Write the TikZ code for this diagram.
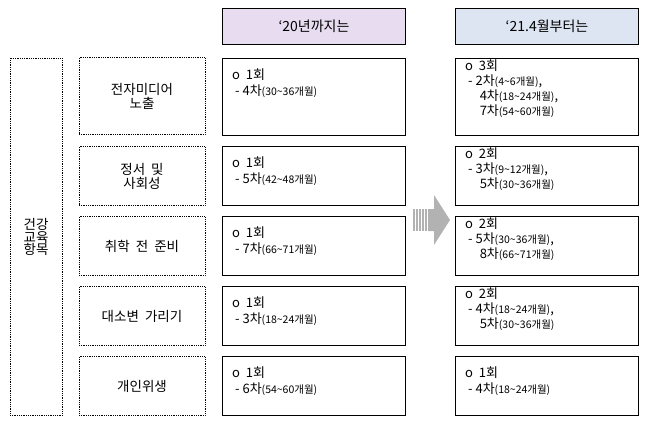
\documentclass[tikz,border=0pt]{standalone}
\usepackage{fontspec}
\setmainfont{Noto Sans CJK KR}
\usetikzlibrary{positioning}
\definecolor{hdA}{HTML}{E8DDF0}
\definecolor{hdB}{HTML}{DDE4F2}
\begin{document}
\begin{tikzpicture}[x=1pt,y=-1pt]
\tikzstyle{hd}=[draw, line width=0.9pt, minimum width=183pt, minimum height=36pt, font=\fontsize{14}{16}\selectfont];
\tikzstyle{cat}=[draw, densely dotted, line width=0.8pt, minimum width=126pt, align=center, font=\fontsize{13.5}{14}\selectfont];
\tikzstyle{box}=[draw, line width=0.9pt, minimum width=183pt, anchor=north west];
\tikzstyle{txt}=[anchor=north west, align=left, inner sep=0pt, font=\fontsize{13}{16}\selectfont];
\newcommand{\mo}[1]{{\fontsize{10.5}{15}\selectfont(#1개월)}}
\useasboundingbox (0,0) rectangle (652,422);
\node [hd, fill=hdA] (h1) at (314,26) {‘20년까지는};
\node [hd, fill=hdB] (h2) at (547,26) {‘21.4월부터는};
\node [draw, densely dotted, line width=0.8pt, minimum width=52pt, minimum height=357pt, align=center, font=\fontsize{13.5}{12.5}\selectfont] (grp) at (36,237) {건강\\교육\\항목};
\node [cat, minimum height=77pt] (c1) at (142,96) {전자미디어\\노출};
\node [cat, minimum height=59pt] (c2) at (142,176) {정서 \ 및\\사회성};
\node [cat, minimum height=59pt] (c3) at (142,246) {취학 \ 전 \ 준비};
\node [cat, minimum height=59pt] (c4) at (142,316) {대소변 \ 가리기};
\node [cat, minimum height=59pt] (c5) at (142,386) {개인위생};
% before
\node [box, minimum height=77pt] (a1) at (222,58) {};
\node [box, minimum height=59pt] (a2) at (222,146) {};
\node [box, minimum height=59pt] (a3) at (222,216) {};
\node [box, minimum height=59pt] (a4) at (222,286) {};
\node [box, minimum height=59pt] (a5) at (222,356) {};
\node [txt] (ta1) at (232,69) {o\ \ 1회\\\ - 4차\mo{30\textasciitilde36}};
\node [txt] (ta2) at (232,157) {o\ \ 1회\\\ - 5차\mo{42\textasciitilde48}};
\node [txt] (ta3) at (232,227) {o\ \ 1회\\\ - 7차\mo{66\textasciitilde71}};
\node [txt] (ta4) at (232,297) {o\ \ 1회\\\ - 3차\mo{18\textasciitilde24}};
\node [txt] (ta5) at (232,367) {o\ \ 1회\\\ - 6차\mo{54\textasciitilde60}};
% after
\node [box, minimum height=77pt] (b1) at (455,58) {};
\node [box, minimum height=59pt] (b2) at (455,146) {};
\node [box, minimum height=59pt] (b3) at (455,216) {};
\node [box, minimum height=59pt] (b4) at (455,286) {};
\node [box, minimum height=59pt] (b5) at (455,356) {};
\node [txt, font=\fontsize{13}{15}\selectfont] (tb1) at (465,60) {o\ \ 3회\\\ - 2차\mo{4\textasciitilde6}, \\\ \ \ \ \ 4차\mo{18\textasciitilde24}, \\\ \ \ \ \ 7차\mo{54\textasciitilde60}};
\node [txt, font=\fontsize{13}{15}\selectfont] (tb2) at (465,148) {o\ \ 2회\\\ - 3차\mo{9\textasciitilde12}, \\\ \ \ \ \ 5차\mo{30\textasciitilde36}};
\node [txt, font=\fontsize{13}{15}\selectfont] (tb3) at (465,218) {o\ \ 2회\\\ - 5차\mo{30\textasciitilde36}, \\\ \ \ \ \ 8차\mo{66\textasciitilde71}};
\node [txt, font=\fontsize{13}{15}\selectfont] (tb4) at (465,288) {o\ \ 2회\\\ - 4차\mo{18\textasciitilde24}, \\\ \ \ \ \ 5차\mo{30\textasciitilde36}};
\node [txt] (tb5) at (465,367) {o\ \ 1회\\\ - 4차\mo{18\textasciitilde24}};
% arrow
\foreach \x in {413,416,419,422,425} \fill [gray!60] (\x,209) rectangle ++(1.6,22);
\fill [gray!60] (428,209) -- (434,209) -- (434,195) -- (450,220) -- (434,245) -- (434,231) -- (428,231) -- cycle;
\end{tikzpicture}
\end{document}
